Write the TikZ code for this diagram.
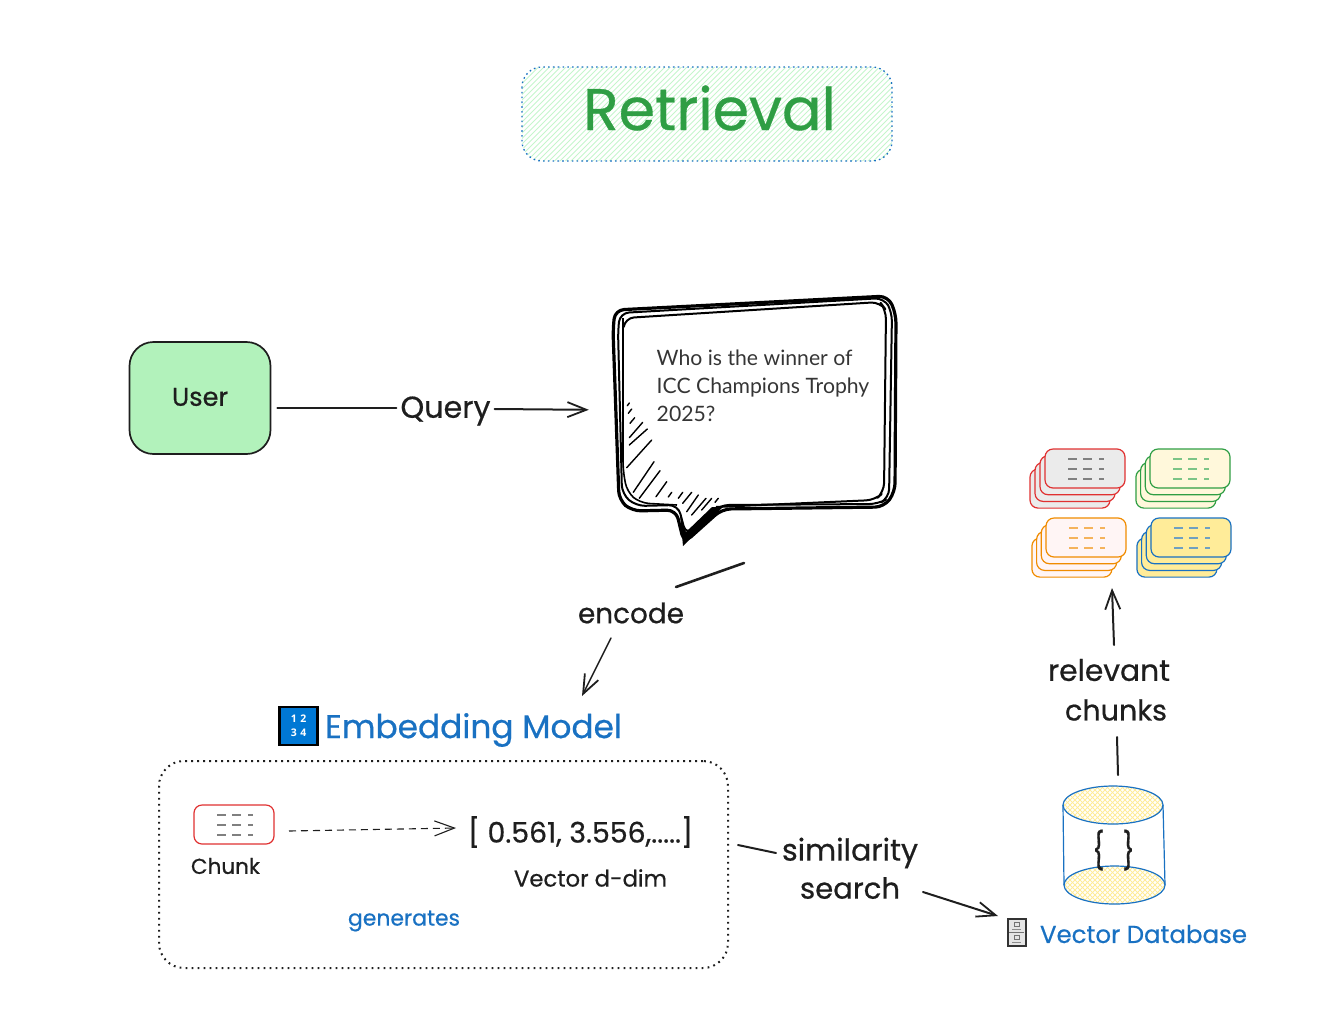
\documentclass[tikz,border=0pt]{standalone}
\usepackage{fontspec}
\usepackage{graphicx}
\usetikzlibrary{arrows.meta,calc}
\setmainfont{Poppins}[FakeBold=0.5]
\newfontfamily\handfont{Poppins}[FakeBold=0.6]
\newfontfamily\nunito{Lato}
\newfontfamily\iconfont{Open Sans}
\definecolor{ink}{HTML}{1E1E1E}
\definecolor{xblue}{HTML}{1971C2}
\definecolor{xgreen}{HTML}{2F9E44}
\definecolor{xred}{HTML}{E03131}
\definecolor{xorange}{HTML}{F08C00}
\definecolor{lgreen}{HTML}{B2F2BB}
\definecolor{lyellow}{HTML}{FFEC99}
\definecolor{markblue}{HTML}{6FA0C0}
\definecolor{markgreen}{HTML}{7CC487}
\definecolor{markorange}{HTML}{F5B35C}
\newcommand{\fitw}[2]{\resizebox{#1pt}{!}{\handfont\fontsize{20pt}{24pt}\selectfont #2}}
\tikzset{
  x=1pt,y=-1pt,
  handtext/.style={inner sep=0pt,text=ink},
  conn/.style={draw=ink,line width=2pt,line cap=round},
  connarrow/.style={conn,-{Straight Barb[length=19pt,width=15pt,line width=1.8pt]}},
  dashconn/.style={draw=ink,line width=1.1pt,dash pattern=on 7pt off 5pt,-{Straight Barb[length=20pt,width=15pt,line width=1.1pt]}},
  bubblestroke/.style={draw=black,rounded corners=9pt,line join=round},
  cardbox/.style={rounded corners=8pt,line width=1.2pt},
  dashmark/.style={line width=2pt},
}
\newcommand{\cardat}[4]{\draw[cardbox,draw=#3,fill=#4] (#1,#2) rectangle ++(80,39);}
\newcommand{\marksat}[3]{%
  \foreach \dy in {10,20,30}{%
    \draw[dashmark,draw=#3] (#1+23,#2+\dy) -- ++(9,0);
    \draw[dashmark,draw=#3] (#1+38,#2+\dy) -- ++(9,0);
    \draw[dashmark,draw=#3] (#1+54,#2+\dy) -- ++(5,0);
  }}
\newcommand{\stackat}[6]{%
  \foreach \k in {3,2,1,0}{\cardat{#1-\k*#3}{#2+\k*#4}{#5}{#6}}%
}
\begin{document}
\begin{tikzpicture}
\useasboundingbox (0,0) rectangle (1322,1029);

% ---- title box
\begin{scope}
  \clip[rounded corners=20pt] (522,67) rectangle (892,161);
  \foreach \k in {-120,-114.5,...,400}{\draw[lgreen!75,line width=0.9pt] (522+\k,165) -- (522+\k+110,55);}
\end{scope}
\draw[xblue,line width=1.3pt,dash pattern=on 1.6pt off 3.2pt,rounded corners=20pt] (522,67) rectangle (892,161);
\node[handtext,text=xgreen] (title) at (709.5,108) {\fitw{253}{Retrieval}};

% ---- user
\node[draw=ink,line width=1.7pt,fill=lgreen,rounded corners=24pt,minimum width=141pt,minimum height=112pt,inner sep=0pt] (user) at (200,398) {};
\node[handtext] (usertxt) at (200,397) {\fitw{56}{User}};

% ---- speech bubble
\node[inner sep=0pt,minimum width=284pt,minimum height=226pt] (bubble) at (755,410) {};
\draw[bubblestroke,line width=3.2pt] (613,330) -- (615,310) -- (888,296) -- (896,314) -- (895,492) -- (884,507) -- (722,509) -- (684,543) -- (676,510) -- (632,511) -- (619,500) -- cycle;
\draw[bubblestroke,line width=2pt] (618,330) -- (620,313) -- (884,298) -- (892,312) -- (889,498) -- (878,504) -- (720,505) -- (686,535) -- (678,505) -- (636,506) -- (622,494) -- cycle;
\draw[bubblestroke,line width=2pt] (624,325) -- (625,318) -- (880,302) -- (886,310) -- (884,492) -- (875,500) -- (716,507);
\draw[bubblestroke,line width=1.6pt] (623,318) -- (623,470) -- (627,492) -- (640,503) -- (677,505);
\fill[black] (683,546) -- (723,507) -- (712,507) -- (686,532) -- (680,515) -- cycle;
\foreach \xa/\ya/\xb/\yb in {
 29.3/118/27.3/120.7, 31.7/124/28.3/128.3, 34.7/132.7/30/138.3, 42.7/137.3/29.3/152.7,
 47.3/144/29.3/160, 51.7/155/26.7/182.7, 54/176.7/33.3/207.3, 60/185.7/39.3/213.3,
 66.7/196.7/56/211.7, 71.7/207.3/68.3/212, 82.7/207.3/78.3/213.3, 91.7/207.3/82.7/218.3,
 98.3/210/86.7/226.7, 106/213.3/91.7/230, 111.7/213.3/101.7/225, 118.3/213.3/115/217.3}{
  \draw[black,line width=1.4pt,line cap=round] (600+\xa,285+\ya) -- (600+\xb,285+\yb);
}
\node[inner sep=0pt,anchor=north west,align=left,text=ink!90,font=\nunito\fontsize{21.2pt}{28pt}\selectfont] (question) at (656.5,350) {Who is the winner of\\ICC Champions Trophy\\2025?};

% ---- query
\node[handtext,inner sep=4pt] (query) at (445.5,411) {\fitw{90}{Query}};
\draw[conn,shorten <=6pt] (user.east |- 0,408) -- (query.west |- 0,408);
\draw[connarrow,shorten >=24pt] (query.east |- 0,409) -- (bubble.west);

% ---- encode
\node[handtext] (encode) at (631,613) {\fitw{106}{encode}};
\coordinate (encA) at (744,563);
\coordinate (encB) at (676,587);
\coordinate (encC) at (611,638);
\coordinate (encD) at (582,696);
\draw[conn,line width=2.6pt] (encA) -- (encB);
\draw[connarrow,line width=1.5pt] (encC) -- (encD);

% ---- embedding model
\node[draw=black,line width=2.6pt,fill={rgb,255:red,0;green,120;blue,212},minimum size=38pt,inner sep=0pt,text=white,align=center,font=\iconfont\bfseries\fontsize{10.5pt}{14pt}\selectfont] (icon) at (298.5,726) {1\,\,2\\3\,\,4};
\node[handtext,text=xblue] (embed) at (473.5,730) {\fitw{297}{Embedding Model}};
\node[draw=ink,line width=2pt,dash pattern=on 1.8pt off 4.2pt,rounded corners=25pt,minimum width=569pt,minimum height=207pt,inner sep=0pt] (modelbox) at (443.5,864.5) {};

\cardat{194}{805}{xred}{white}
\marksat{194}{805}{gray}
\node[handtext] (chunk) at (225.5,866) {\fitw{69}{Chunk}};
\node[handtext] (vector) at (580.5,832) {\fitw{225}{[ 0.561, 3.556,.....]}};
\coordinate (dashA) at (289,831);
\coordinate (dashB) at (456,828);
\draw[dashconn] (dashA) -- (dashB);
\node[handtext] (vdim) at (590.5,878) {\fitw{153}{Vector d-dim}};
\node[handtext,text=xblue] (gen) at (404,921) {\fitw{112}{generates}};

% ---- similarity search
\node[handtext,align=center] (simil) at (850,853) {\fitw{136}{similarity}};
\node[handtext,align=center] (searchtxt) at (850,888) {\fitw{100}{search}};
\coordinate (simA) at (738,845);
\coordinate (simB) at (776,853);
\coordinate (simC) at (923,892);
\coordinate (simD) at (998,916);
\draw[conn] (simA) -- (simB);
\draw[connarrow] (simC) -- (simD);

% ---- cabinet icon
\node[draw=black!80,line width=2pt,fill=black!10,minimum width=18pt,minimum height=27pt,inner sep=0pt] (cabinet) at (1016.5,932.5) {};
\draw[black!55,line width=0.8pt] (1009,932.5) -- (1024,932.5);
\draw[black!55,line width=0.6pt] (1014,922) rectangle (1019,926);
\draw[black!55,line width=0.6pt] (1014,935) rectangle (1019,939);
\draw[black!45,line width=0.8pt] (1012,929) -- (1021,929) (1012,942) -- (1021,942);
\node[handtext,text=xblue] (vdb) at (1143.5,934) {\fitw{207}{Vector Database}};

% ---- database cylinder
\begin{scope}
  \clip (1113,805) ellipse [x radius=50,y radius=19];
  \foreach \k in {0,5,...,180}{
    \draw[lyellow,line width=0.8pt] (1040+\k,775) -- (1040+\k-60,835);
    \draw[lyellow,line width=0.8pt] (1000+\k,775) -- (1000+\k+60,835);
  }
\end{scope}
\begin{scope}
  \clip (1114.5,885) ellipse [x radius=50.5,y radius=19];
  \foreach \k in {0,5,...,180}{
    \draw[lyellow,line width=0.8pt] (1040+\k,855) -- (1040+\k-60,915);
    \draw[lyellow,line width=0.8pt] (1000+\k,855) -- (1000+\k+60,915);
  }
\end{scope}
\draw[xblue,line width=1.2pt] (1113,805) ellipse [x radius=50,y radius=19];
\draw[xblue,line width=1.2pt] (1114.5,885) ellipse [x radius=50.5,y radius=19];
\draw[xblue,line width=1.2pt] (1063,805) -- (1064,885);
\draw[xblue,line width=1.2pt] (1163,805) -- (1165,885);
\node[inner sep=0pt,minimum width=102pt,minimum height=118pt] (dbase) at (1114,845) {};
\node[handtext] (braces) at (1113.5,850) {\resizebox{42pt}{34pt}{\handfont\fontsize{20pt}{24pt}\selectfont\{\hspace{0.7em}\}}};

% ---- relevant chunks
\node[handtext] (relev) at (1109,670) {\fitw{122}{relevant}};
\node[handtext] (chunks) at (1116,710) {\fitw{102}{chunks}};
\coordinate (relA) at (1118,775);
\coordinate (relB) at (1117,737);
\coordinate (relC) at (1114,645);
\coordinate (relD) at (1112,588);
\draw[conn] (relA) -- (relB);
\draw[connarrow] (relC) -- (relD);

% ---- stacks of chunks
\stackat{1045}{449}{5}{6.7}{xred}{black!8}
\marksat{1045}{449}{gray}
\stackat{1150}{449}{4.7}{6.7}{xgreen}{lyellow!35}
\marksat{1150}{449}{markgreen}
\stackat{1046}{518}{4.7}{6.7}{xorange}{red!4}
\marksat{1046}{518}{markorange}
\stackat{1151}{518}{4.7}{6.7}{xblue}{lyellow}
\marksat{1151}{518}{markblue}
\end{tikzpicture}
\end{document}
